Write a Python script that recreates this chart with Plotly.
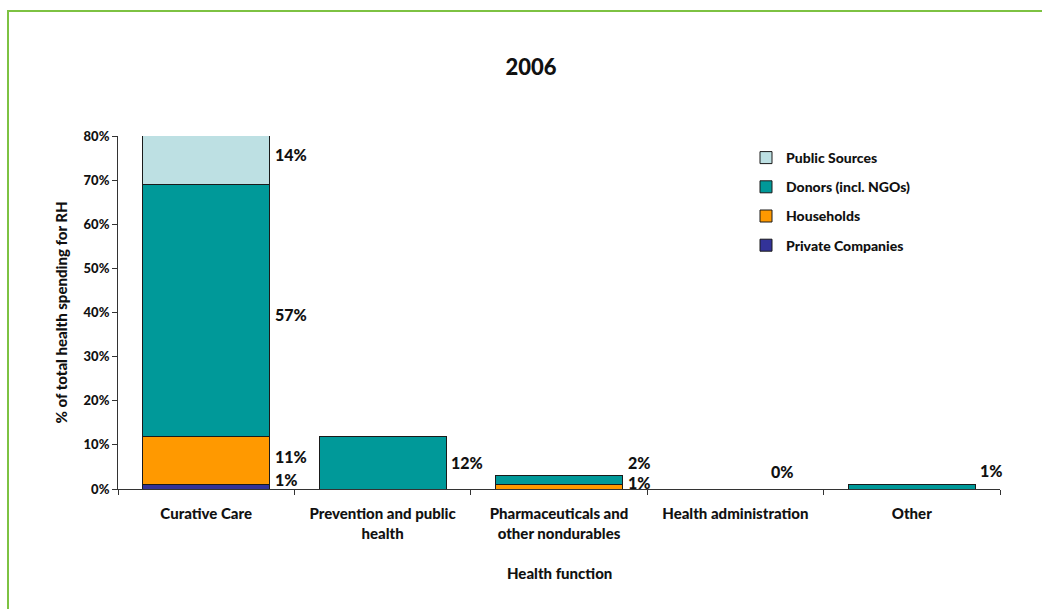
import plotly.graph_objects as go

# Share of total health spending for RH, by health function and financing source (2006)
categories = [
    "Curative Care",
    "Prevention and public health",
    "Pharmaceuticals and other nondurables",
    "Health administration",
    "Other",
]
tick_labels = [
    "Curative Care",
    "Prevention and public<br>health",
    "Pharmaceuticals and<br>other nondurables",
    "Health administration",
    "Other",
]
private_companies = [0.01, 0.00, 0.00, 0.00, 0.00]
households = [0.11, 0.00, 0.01, 0.00, 0.00]
donors = [0.57, 0.12, 0.02, 0.00, 0.01]
public_sources = [0.14, 0.00, 0.00, 0.00, 0.00]

series_names = ["Private Companies", "Households", "Donors (incl. NGOs)", "Public Sources"]
series_values = [private_companies, households, donors, public_sources]
series_colors = ["#333399", "#FF9900", "#009999", "#BDE0E3"]

W, H = 1042, 609
ML, MR, MT, MB = 118, 42, 136, 120
PW, PH = W - ML - MR, H - MT - MB
Y_MAX = 0.80
FONT = "Lato"
WEIGHT = 900
BAR_WIDTH = 0.72


def px_x(px):
    return (px - ML) / PW


def px_y(py):
    return (H - MB - py) / PH


def txt(size):
    return dict(family=FONT, size=size, color="#111111", weight=WEIGHT)


fig = go.Figure()
n_series = len(series_names)
for si, (name, vals, color) in enumerate(zip(series_names, series_values, series_colors)):
    fig.add_trace(go.Bar(
        name=name,
        x=categories,
        y=[v if v > 0 else None for v in vals],
        marker=dict(color=color, line=dict(color="#1a1a1a", width=1)),
        width=BAR_WIDTH,
        legendgroup=name,
        legendrank=n_series - si,
        hoverinfo="skip",
    ))

# Value labels beside each bar segment; small segments are nudged upward (pixels)
label_lift = {
    (0, 0): 7, (0, 1): 4, (0, 2): -4, (0, 3): 6,
    (1, 2): 0,
    (2, 1): 4, (2, 2): 18,
    (4, 2): 16,
}
for ci, cat in enumerate(categories):
    base = 0.0
    total = sum(vals[ci] for vals in series_values)
    for si, vals in enumerate(series_values):
        v = vals[ci]
        if v > 0:
            lo, hi = base, min(base + v, Y_MAX)
            fig.add_annotation(
                x=ci + BAR_WIDTH / 2, y=(lo + hi) / 2, xref="x", yref="y",
                text=f"{round(v * 100)}%", showarrow=False,
                xanchor="left", yanchor="middle", xshift=3,
                yshift=label_lift.get((ci, si), 0),
                font=txt(16),
            )
        base += v
    if total == 0:
        fig.add_annotation(
            x=ci + BAR_WIDTH / 2, y=0, xref="x", yref="y",
            text=f"{round(total * 100)}%", showarrow=False,
            xanchor="right", yanchor="middle", xshift=-3, yshift=18,
            font=txt(16),
        )

# Axis titles
fig.add_annotation(
    x=px_x(60), y=0.5, xref="paper", yref="paper", text="% of total health spending for RH",
    textangle=-90, showarrow=False, xanchor="center", yanchor="middle",
    font=txt(15),
)
fig.add_annotation(
    x=0.5, y=px_y(573), xref="paper", yref="paper", text="Health function",
    showarrow=False, xanchor="center", yanchor="middle",
    font=txt(15),
)

# Green frame around the chart
fig.add_shape(
    type="rect", xref="paper", yref="paper",
    x0=px_x(8), x1=px_x(W + 10), y0=px_y(H + 10), y1=px_y(11),
    line=dict(color="#7DC242", width=2), fillcolor="rgba(0,0,0,0)", layer="above",
)

fig.update_layout(
    width=W, height=H,
    margin=dict(l=ML, r=MR, t=MT, b=MB),
    paper_bgcolor="white", plot_bgcolor="white",
    barmode="stack",
    title=dict(
        text="2006", x=531 / W, xanchor="center", y=1 - 67 / H, yanchor="middle",
        font=txt(22),
    ),
    font=dict(family=FONT, color="#111111"),
    legend=dict(
        x=px_x(746), y=px_y(142), xanchor="left", yanchor="top",
        traceorder="grouped", tracegroupgap=8,
        bgcolor="rgba(0,0,0,0)",
        font=txt(14),
    ),
    showlegend=True,
)

fig.update_xaxes(
    type="category", tickmode="array", tickvals=categories, ticktext=tick_labels,
    tickson="boundaries", ticks="outside", ticklen=5, tickcolor="#333333",
    ticklabelstandoff=11,
    showline=True, linecolor="#333333", linewidth=1, showgrid=False,
    tickfont=txt(15),
    range=[-0.5, len(categories) - 0.5],
)
fig.update_yaxes(
    range=[0, Y_MAX], tickvals=[i / 10 for i in range(9)], tickformat=".0%",
    ticks="outside", ticklen=5, tickcolor="#333333",
    showline=True, linecolor="#333333", linewidth=1, showgrid=False, zeroline=False,
    tickfont=txt(13),
)

fig.write_html("out.html")
